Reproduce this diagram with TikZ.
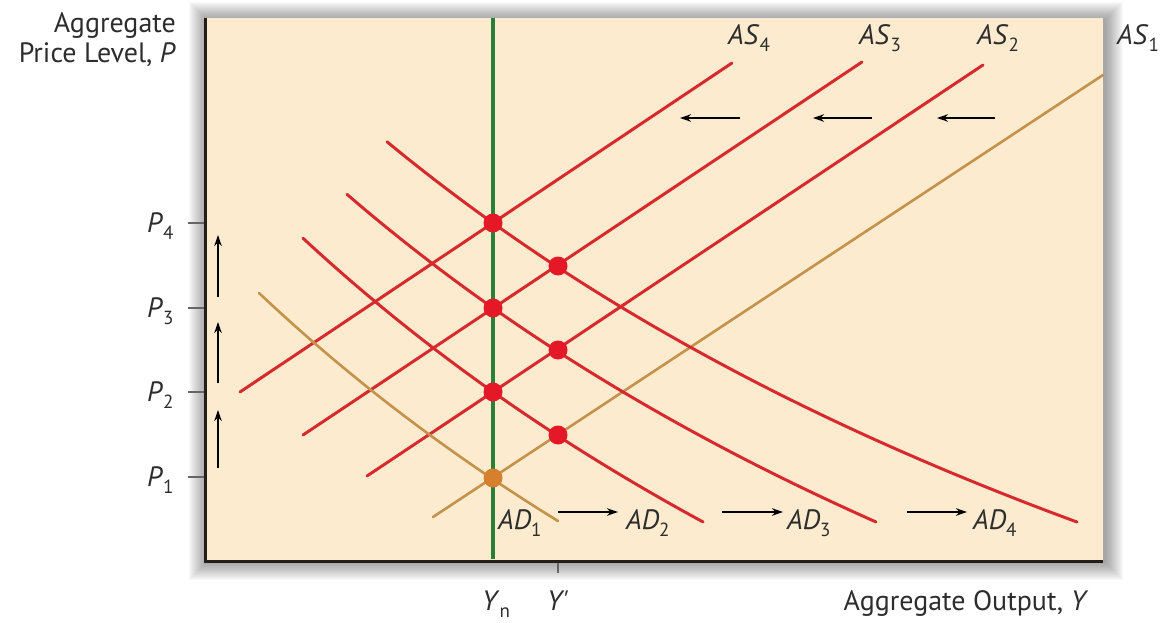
\documentclass[tikz,border=0pt]{standalone}
\usepackage{fontspec}
\setmainfont{PT Sans}
\usetikzlibrary{arrows.meta}
\definecolor{panel}{RGB}{252,235,206}
\definecolor{curvered}{RGB}{214,42,46}
\definecolor{dotred}{RGB}{228,24,38}
\definecolor{tancol}{RGB}{196,146,74}
\definecolor{dotorange}{RGB}{214,128,46}
\definecolor{yngreen}{RGB}{42,128,54}
\definecolor{txt}{RGB}{45,45,45}
\definecolor{axiscol}{RGB}{35,30,26}
\newcommand{\sbs}[1]{\raisebox{-7pt}{\fontsize{19}{19}\selectfont #1}}
\begin{document}
\begin{tikzpicture}[x=1pt,y=-1pt,
  redcurve/.style={curvered, line width=3pt, line cap=round},
  tancurve/.style={tancol, line width=2.6pt, line cap=round},
  shiftarrow/.style={black, line width=1.4pt, -{Stealth[length=11pt,width=7.5pt]}},
  eqdot/.style={circle, fill=dotred, inner sep=0pt, minimum size=19pt},
  startdot/.style={circle, fill=dotorange, inner sep=0pt, minimum size=19pt},
  axtick/.style={gray!80!black, line width=1.3pt},
  lab/.style={font=\fontsize{28}{32}\selectfont, text=txt, inner sep=0pt}]
\useasboundingbox (0,0) rectangle (1162,623);
% shadow
\foreach \i in {1,...,18}
  \fill[black, fill opacity=0.024] ({207-\i},{20-\i}) rectangle ({1105+\i},{562+\i});
% panel
\fill[panel] (205,18) rectangle (1103,560);
% Y_n vertical line
\coordinate (gtop) at (493,18);
\coordinate (gbot) at (493,559);
\draw[yngreen, line width=3.2pt] (gtop) -- (gbot);
% AS curves
\coordinate (as4s) at (240,392); \coordinate (as4e) at (732,63);
\coordinate (as3s) at (303,435); \coordinate (as3e) at (862,62);
\coordinate (as2s) at (367,476); \coordinate (as2e) at (983,65);
\coordinate (as1s) at (433,517); \coordinate (as1e) at (1103,75);
\draw[redcurve] (as4s) -- (as4e);
\draw[redcurve] (as3s) -- (as3e);
\draw[redcurve] (as2s) -- (as2e);
\draw[tancurve] (as1s) -- (as1e);
% AD curves
\draw[redcurve] plot[domain=387:1077, samples=70] (\x, {1286.4 - 1587.6/(\x/1000+1)});
\draw[redcurve] plot[domain=347:876, samples=60] (\x, {1356.2 - 1565.0/(\x/1000+1)});
\draw[redcurve] plot[domain=303:703, samples=50] (\x, {1446.2 - 1574.0/(\x/1000+1)});
\draw[tancurve] plot[domain=259:558, samples=40] (\x, {1481.1 - 1495.8/(\x/1000+1)});
% axes
\coordinate (otop) at (205,18);
\coordinate (orig) at (205,561);
\coordinate (xend) at (1103,561);
\draw[axiscol, line width=3pt] (otop) -- (orig) -- (xend);
% ticks
\foreach \n/\y in {1/477,2/392,3/308,4/223}{
  \coordinate (t\n a) at (188,\y); \coordinate (t\n b) at (204,\y);
  \draw[axtick] (t\n a) -- (t\n b);
}
\coordinate (ypa) at (558,563); \coordinate (ypb) at (558,573);
\draw[axtick] (ypa) -- (ypb);
% equilibrium dots
\node[eqdot] (e4) at (493,223) {};
\node[eqdot] (e3) at (493,308) {};
\node[eqdot] (e2) at (493,392) {};
\node[startdot] (e1) at (493,478) {};
\node[eqdot] (f3) at (558,266) {};
\node[eqdot] (f2) at (558,350) {};
\node[eqdot] (f1) at (558,435) {};
% up arrows
\coordinate (u1a) at (218,468); \coordinate (u1b) at (218,410);
\coordinate (u2a) at (218,383); \coordinate (u2b) at (218,322);
\coordinate (u3a) at (218,297); \coordinate (u3b) at (218,235);
\draw[shiftarrow] (u1a) -- (u1b);
\draw[shiftarrow] (u2a) -- (u2b);
\draw[shiftarrow] (u3a) -- (u3b);
% left arrows
\coordinate (l1a) at (740,118); \coordinate (l1b) at (680,118);
\coordinate (l2a) at (872,118); \coordinate (l2b) at (813,118);
\coordinate (l3a) at (995,118); \coordinate (l3b) at (937,118);
\draw[shiftarrow] (l1a) -- (l1b);
\draw[shiftarrow] (l2a) -- (l2b);
\draw[shiftarrow] (l3a) -- (l3b);
% right arrows
\coordinate (r1a) at (558,512); \coordinate (r1b) at (618,512);
\coordinate (r2a) at (722,512); \coordinate (r2b) at (783,512);
\coordinate (r3a) at (907,512); \coordinate (r3b) at (967,512);
\draw[shiftarrow] (r1a) -- (r1b);
\draw[shiftarrow] (r2a) -- (r2b);
\draw[shiftarrow] (r3a) -- (r3b);
% labels
\node[lab, anchor=base east] (ylab) at (176,33) {Aggregate};
\node[lab, anchor=base east] (ylab2) at (176,63) {Price Level, \textit{P}};
\node[lab, anchor=base] (xlab) at (966,610) {Aggregate Output, \textit{Y}};
\node[lab, anchor=base west] (p4) at (147,232) {\textit{P}\sbs{4}};
\node[lab, anchor=base west] (p3) at (147,317) {\textit{P}\sbs{3}};
\node[lab, anchor=base west] (p2) at (147,401) {\textit{P}\sbs{2}};
\node[lab, anchor=base west] (p1) at (147,486) {\textit{P}\sbs{1}};
\node[lab, anchor=base west] (yn) at (482,610) {\textit{Y}\sbs{n}};
\node[lab, anchor=base west] (yp) at (547,610) {\textit{Y\textquotesingle}};
\node[lab, anchor=base west] (as4) at (728,45) {\textit{AS}\sbs{4}};
\node[lab, anchor=base west] (as3) at (859,45) {\textit{AS}\sbs{3}};
\node[lab, anchor=base west] (as2) at (977,45) {\textit{AS}\sbs{2}};
\node[lab, anchor=base west] (as1) at (1117,45) {\textit{AS}\sbs{1}};
\node[lab, anchor=base west] (ad1) at (498,529) {\textit{AD}\sbs{1}};
\node[lab, anchor=base west] (ad2) at (626,529) {\textit{AD}\sbs{2}};
\node[lab, anchor=base west] (ad3) at (787,529) {\textit{AD}\sbs{3}};
\node[lab, anchor=base west] (ad4) at (973,529) {\textit{AD}\sbs{4}};
\end{tikzpicture}
\end{document}
